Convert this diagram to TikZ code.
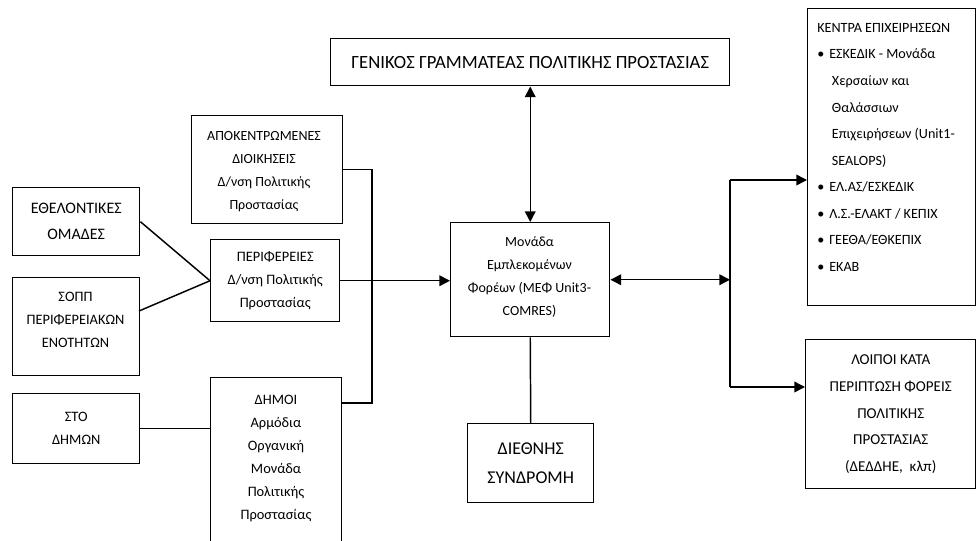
\documentclass[tikz,border=0pt]{standalone}
\usepackage{fontspec}
\setmainfont{Carlito}
\usetikzlibrary{arrows.meta,calc}
\begin{document}
\begin{tikzpicture}[x=0.75pt,y=-0.75pt,
  box/.style={draw=black,line width=1.1pt,inner sep=0pt,anchor=north west,align=center},
  conn/.style={line width=1.1pt},
  arr/.style={conn,-{Triangle[length=8pt,width=8pt]}},
  darr/.style={conn,{Triangle[length=8pt,width=8pt]}-{Triangle[length=8pt,width=8pt]}},
  fsl/.style={font=\fontsize{10.8}{17.25}\selectfont},
  fapk/.style={font=\fontsize{10.5}{17.25}\selectfont},
  fbig/.style={font=\fontsize{12}{19.5}\selectfont},
  ftitle/.style={font=\fontsize{14}{16}\selectfont},
  fdiet/.style={font=\fontsize{13.5}{21.75}\selectfont},
  floip/.style={font=\fontsize{11.3}{20}\selectfont},
  fmef/.style={font=\fontsize{10.5}{17.25}\selectfont},
  fkent/.style={font=\fontsize{10.6}{19.9}\selectfont},
  txt/.style={inner sep=0pt,align=center}]
\useasboundingbox (0,0) rectangle (977,540);
\clip (0,0) rectangle (977,540);
% boxes
\node[box,ftitle,minimum width=299.25pt,minimum height=35.25pt] (gen) at (330,38) {ΓΕΝΙΚΟΣ ΓΡΑΜΜΑΤΕΑΣ ΠΟΛΙΤΙΚΗΣ ΠΡΟΣΤΑΣΙΑΣ};
\node[box,minimum width=119.25pt,minimum height=85.5pt] (mef) at (450,222) {};
\node[box,fdiet,minimum width=94.5pt,minimum height=59.25pt] (diet) at (467,423) {ΔΙΕΘΝΗΣ\\ΣΥΝΔΡΟΜΗ};
\node[box,minimum width=126pt,minimum height=222.75pt] (kentra) at (807,8) {};
\node[box,floip,minimum width=127.5pt,minimum height=111.75pt] (loipoi) at (805,339) {ΛΟΙΠΟΙ ΚΑΤΑ\\ΠΕΡΙΠΤΩΣΗ ΦΟΡΕΙΣ\\ΠΟΛΙΤΙΚΗΣ\\ΠΡΟΣΤΑΣΙΑΣ\\(ΔΕΔΔΗΕ,\ \ κλπ)};
\node[box,minimum width=113.25pt,minimum height=81pt] (apok) at (191,115) {};
\node[box,fsl,minimum width=96.75pt,minimum height=61.5pt] (perif) at (210,239) {ΠΕΡΙΦΕΡΕΙΕΣ\\Δ/νση Πολιτικής\\Προστασίας};
\node[box,minimum width=98.25pt,minimum height=128.25pt] (dimoi) at (210,377) {};
\node[box,fbig,minimum width=95.25pt,minimum height=51pt] (ethel) at (12,187) {ΕΘΕΛΟΝΤΙΚΕΣ\\ΟΜΑΔΕΣ};
\node[box,minimum width=95.25pt,minimum height=73.5pt] (sopp) at (12,277) {};
\node[box,fsl,minimum width=95.25pt,minimum height=52.5pt] (sto) at (12,393) {ΣΤΟ\\ΔΗΜΩΝ};
% texts placed inside boxes
\node[txt,fmef] (meftxt) at (529.5,277) {Μονάδα\\Εμπλεκομένων\\Φορέων (ΜΕΦ Unit3-\\COMRES)};
\node[txt,fapk] (apoktxt) at (264,172) {ΑΠΟΚΕΝΤΡΩΜΕΝΕΣ\\ΔΙΟΙΚΗΣΕΙΣ\\Δ/νση Πολιτικής\\Προστασίας};
\node[txt,fsl] (sopptxt) at (75.5,320) {ΣΟΠΠ\\ΠΕΡΙΦΕΡΕΙΑΚΩΝ\\ΕΝΟΤΗΤΩΝ};
\node[txt,fsl,anchor=north] (dimoitxt) at (276,395) {ΔΗΜΟΙ\\Αρμόδια\\Οργανική\\Μονάδα\\Πολιτικής\\Προστασίας};
\node[inner sep=0pt,align=left,fkent,anchor=north west] (kentratxt) at (817,23)
 {ΚΕΝΤΡΑ ΕΠΙΧΕΙΡΗΣΕΩΝ\\
  \makebox[9pt][l]{•}ΕΣΚΕΔΙΚ - Μονάδα\\
  \hspace*{11pt}Χερσαίων και\\
  \hspace*{11pt}Θαλάσσιων\\
  \hspace*{11pt}Επιχειρήσεων (Unit1-\\
  \hspace*{11pt}SEALOPS)\\
  \makebox[9pt][l]{•}ΕΛ.ΑΣ/ΕΣΚΕΔΙΚ\\
  \makebox[9pt][l]{•}Λ.Σ.-ΕΛΑΚΤ / ΚΕΠΙΧ\\
  \makebox[9pt][l]{•}ΓΕΕΘΑ/ΕΘΚΕΠΙΧ\\
  \makebox[9pt][l]{•}ΕΚΑΒ};
% junction coordinates
\coordinate (jr) at (730,279);
\coordinate (jt) at (730,180);
\coordinate (jb) at (730,387);
\coordinate (jl) at (372,403);
\coordinate (soppout) at (139,311);
% connectors
\draw[darr] (gen.south) -- (mef.north);
\draw[conn] (mef.south) -- (diet.north);
\draw[darr] (mef.east) -- (mef.east -| jr);
\draw[conn] (jt) -- (jb);
\draw[arr] (jt) -- (kentra.west |- jt);
\draw[arr] (jb) -- (loipoi.west |- jb);
\draw[arr] (perif.east) -- (perif.east -| mef.west);
\draw[conn] (ethel.east) -- (perif.west);
\draw[conn] (soppout) -- (perif.west);
\draw[conn] (sto.east) -- (sto.east -| dimoi.west);
\draw[conn] (apok.east) -| (jl) -- (jl -| dimoi.east);
\end{tikzpicture}
\end{document}
